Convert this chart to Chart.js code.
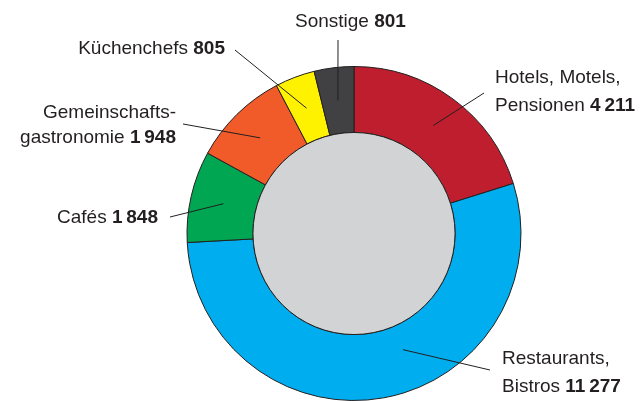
<!DOCTYPE html>
<html>
<head>
<meta charset="utf-8">
<script src="https://cdn.jsdelivr.net/npm/chart.js@4"></script>
<style>
  html, body { margin: 0; padding: 0; background: #fff; }
  #wrap { width: 642px; height: 401px; }
</style>
</head>
<body>
<div id="wrap"><canvas id="chart" width="642" height="401"></canvas></div>
<script>
const categories = ['Hotels, Motels, Pensionen', 'Restaurants, Bistros', 'Cafés', 'Gemeinschaftsgastronomie', 'Küchenchefs', 'Sonstige']
const values = [4211, 11277, 1848, 1948, 805, 801]
const colors = ['#be1e2d', '#00aeef', '#00a651', '#f15a29', '#fff200', '#414042']

// text of each label, the last line gets the bold value
const labelLines = [
  ['Hotels, Motels,', 'Pensionen'],
  ['Restaurants,', 'Bistros'],
  ['Cafés'],
  ['Gemeinschafts-', 'gastronomie'],
  ['Küchenchefs'],
  ['Sonstige']
]

// layout of the labels: text anchor, alignment, line height, leader start, where the leader ends in the arc
const labelLayout = [
  { x: 495, y: 83, align: 'left', lh: 28, from: [484, 93], t: 0.5, r: 0.5 },
  { x: 502, y: 364, align: 'left', lh: 28, from: [490, 370], t: 0.435, r: 0.38 },
  { x: 158, y: 223, align: 'right', lh: 25, from: [170, 217], t: 0.5, r: 0.5 },
  { x: 176, y: 118, align: 'right', lh: 25, from: [183, 124], t: 0.5, r: 0.5 },
  { x: 225, y: 54, align: 'right', lh: 25, from: [235, 50], t: 0.5, r: 0.5 },
  { x: 295, y: 27, align: 'left', lh: 25, from: [338, 40], t: 0.5, r: 0.5 }
]

const FONT = '"Liberation Sans", Arial, sans-serif'
const INK = '#231f20'

function fmt (n) {
  return String(n).replace(/\B(?=(\d{3})+(?!\d))/g, '\u2009')
}

const holePlugin = {
  id: 'hole',
  afterDatasetsDraw (chart) {
    const arc = chart.getDatasetMeta(0).data[0]
    if (!arc) return
    const ctx = chart.ctx
    ctx.save()
    ctx.beginPath()
    ctx.arc(arc.x, arc.y, arc.innerRadius, 0, Math.PI * 2)
    ctx.fillStyle = '#d1d3d4'
    ctx.fill()
    ctx.lineWidth = 1
    ctx.strokeStyle = INK
    ctx.stroke()
    ctx.restore()
  }
}

const labelPlugin = {
  id: 'labels',
  afterDraw (chart) {
    const ctx = chart.ctx
    const arcs = chart.getDatasetMeta(0).data
    ctx.save()
    arcs.forEach((arc, i) => {
      const lay = labelLayout[i]
      // leader line into the segment
      const a = arc.startAngle + (arc.endAngle - arc.startAngle) * lay.t
      const rr = arc.innerRadius + (arc.outerRadius - arc.innerRadius) * lay.r
      ctx.beginPath()
      ctx.moveTo(lay.from[0], lay.from[1])
      ctx.lineTo(arc.x + Math.cos(a) * rr, arc.y + Math.sin(a) * rr)
      ctx.lineWidth = 1
      ctx.strokeStyle = INK
      ctx.stroke()

      // text
      ctx.fillStyle = INK
      ctx.textBaseline = 'alphabetic'
      ctx.textAlign = 'left'
      const lines = labelLines[i]
      lines.forEach((txt, j) => {
        const y = lay.y + j * lay.lh
        const last = j === lines.length - 1
        const reg = last ? txt + ' ' : txt
        const bold = last ? fmt(values[i]) : ''
        ctx.font = '19px ' + FONT
        const wr = ctx.measureText(reg).width
        ctx.font = 'bold 19px ' + FONT
        const wb = ctx.measureText(bold).width
        let x = lay.align === 'right' ? lay.x - wr - wb : lay.x
        ctx.font = '19px ' + FONT
        ctx.fillText(reg, x, y)
        if (bold) {
          ctx.font = 'bold 19px ' + FONT
          ctx.fillText(bold, x + wr, y)
        }
      })
    })
    ctx.restore()
  }
}

new Chart(document.getElementById('chart'), {
  type: 'doughnut',
  data: {
    labels: categories,
    datasets: [{
      data: values,
      backgroundColor: colors,
      borderColor: INK,
      borderWidth: 1,
      borderAlign: 'center'
    }]
  },
  options: {
    responsive: false,
    animation: false,
    cutout: '60.5%',
    layout: { padding: { left: 186, right: 120, top: 66, bottom: 0 } },
    plugins: {
      legend: { display: false },
      tooltip: { enabled: false }
    }
  },
  plugins: [holePlugin, labelPlugin]
})
</script>
</body>
</html>
